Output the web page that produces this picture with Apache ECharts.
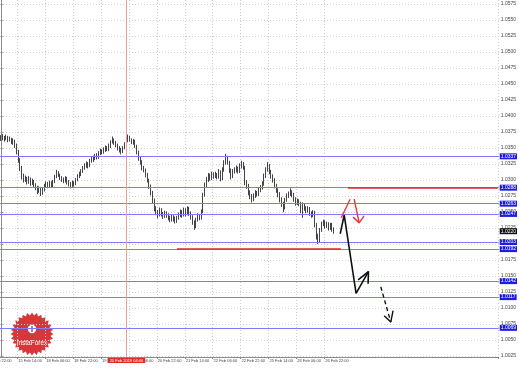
<!DOCTYPE html>
<html><head><meta charset="utf-8">
<script src="https://cdn.jsdelivr.net/npm/echarts@6/dist/echarts.min.js"></script>
<style>html,body{margin:0;padding:0;background:#fff}#c{width:519px;height:370px}</style>
</head><body><div id="c"></div>
<script>
// H1 bars, 15 Feb 2019 04:00 onwards
const firstOpen = 1.0364;
const closes = [
1.0366,1.0367,1.0364,1.0367,1.0363,1.0364,1.0359,1.0361,1.0355,1.0344,
1.0331,1.0319,1.0306,1.0300,1.0303,1.0297,1.0302,1.0295,1.0298,1.0292,
1.0288,1.0283,1.0286,1.0280,1.0284,1.0291,1.0294,1.0291,1.0295,1.0292,
1.0297,1.0305,1.0311,1.0308,1.0303,1.0300,1.0298,1.0303,1.0297,1.0294,
1.0291,1.0295,1.0294,1.0300,1.0306,1.0309,1.0314,1.0319,1.0322,1.0325,
1.0322,1.0330,1.0331,1.0334,1.0338,1.0336,1.0342,1.0345,1.0344,1.0347,
1.0350,1.0348,1.0353,1.0359,1.0363,1.0358,1.0355,1.0350,1.0347,1.0344,
1.0350,1.0356,1.0361,1.0366,1.0363,1.0359,1.0361,1.0353,1.0344,1.0334,
1.0328,1.0319,1.0316,1.0308,1.0300,1.0291,1.0281,1.0269,1.0256,1.0250,
1.0245,1.0253,1.0247,1.0244,1.0248,1.0245,1.0241,1.0238,1.0242,1.0239,
1.0236,1.0241,1.0245,1.0250,1.0245,1.0253,1.0247,1.0255,1.0248,1.0242,
1.0234,1.0228,1.0238,1.0244,1.0241,1.0250,1.0277,1.0292,1.0300,1.0306,
1.0303,1.0309,1.0306,1.0309,1.0305,1.0313,1.0303,1.0316,1.0327,1.0334,
1.0328,1.0316,1.0306,1.0313,1.0316,1.0319,1.0314,1.0322,1.0325,1.0320,
1.0297,1.0291,1.0281,1.0275,1.0270,1.0275,1.0280,1.0278,1.0284,1.0288,
1.0294,1.0306,1.0316,1.0322,1.0313,1.0306,1.0300,1.0291,1.0284,1.0278,
1.0270,1.0263,1.0256,1.0269,1.0275,1.0278,1.0281,1.0277,1.0270,1.0264,
1.0267,1.0263,1.0258,1.0261,1.0256,1.0252,1.0255,1.0248,1.0245,1.0250,
1.0230,1.0213,1.0206,1.0222,1.0231,1.0234,1.0228,1.0231,1.0225,1.0230,1.0223,1.0220];
const highs = [
1.0370,1.0372,1.0369,1.0371,1.0369,1.0368,1.0366,1.0365,1.0363,1.0357,
1.0347,1.0334,1.0322,1.0310,1.0307,1.0305,1.0306,1.0304,1.0302,1.0300,
1.0295,1.0291,1.0290,1.0288,1.0288,1.0294,1.0298,1.0297,1.0299,1.0298,
1.0300,1.0308,1.0316,1.0314,1.0310,1.0306,1.0304,1.0306,1.0305,1.0300,
1.0297,1.0299,1.0298,1.0303,1.0309,1.0313,1.0317,1.0322,1.0326,1.0329,
1.0328,1.0333,1.0336,1.0338,1.0341,1.0342,1.0345,1.0349,1.0348,1.0351,
1.0354,1.0353,1.0357,1.0362,1.0368,1.0365,1.0361,1.0357,1.0353,1.0350,
1.0353,1.0359,1.0365,1.0371,1.0369,1.0365,1.0364,1.0363,1.0355,1.0346,
1.0337,1.0331,1.0322,1.0318,1.0311,1.0302,1.0293,1.0283,1.0271,1.0259,
1.0253,1.0257,1.0256,1.0250,1.0252,1.0251,1.0248,1.0244,1.0246,1.0245,
1.0243,1.0244,1.0249,1.0254,1.0253,1.0257,1.0256,1.0259,1.0258,1.0251,
1.0245,1.0237,1.0241,1.0248,1.0247,1.0254,1.0280,1.0296,1.0305,1.0311,
1.0310,1.0313,1.0312,1.0313,1.0311,1.0317,1.0315,1.0320,1.0331,1.0341,
1.0338,1.0330,1.0318,1.0317,1.0320,1.0323,1.0321,1.0326,1.0330,1.0328,
1.0322,1.0300,1.0294,1.0284,1.0278,1.0279,1.0284,1.0283,1.0288,1.0292,
1.0298,1.0310,1.0320,1.0328,1.0325,1.0316,1.0309,1.0303,1.0294,1.0287,
1.0281,1.0273,1.0266,1.0272,1.0279,1.0282,1.0287,1.0284,1.0280,1.0273,
1.0271,1.0270,1.0266,1.0265,1.0264,1.0259,1.0259,1.0258,1.0251,1.0253,
1.0252,1.0233,1.0216,1.0225,1.0235,1.0238,1.0237,1.0235,1.0234,1.0233,1.0233,1.0226];
const lows = [
1.0361,1.0362,1.0360,1.0362,1.0359,1.0360,1.0356,1.0355,1.0350,1.0340,
1.0327,1.0314,1.0301,1.0296,1.0297,1.0293,1.0294,1.0291,1.0292,1.0288,
1.0284,1.0278,1.0280,1.0275,1.0277,1.0282,1.0288,1.0287,1.0288,1.0289,
1.0289,1.0295,1.0303,1.0305,1.0300,1.0297,1.0295,1.0296,1.0293,1.0290,
1.0287,1.0289,1.0290,1.0292,1.0298,1.0303,1.0306,1.0311,1.0316,1.0319,
1.0318,1.0320,1.0327,1.0328,1.0331,1.0332,1.0333,1.0339,1.0340,1.0341,
1.0344,1.0345,1.0345,1.0350,1.0357,1.0355,1.0351,1.0346,1.0343,1.0340,
1.0342,1.0348,1.0354,1.0359,1.0360,1.0356,1.0355,1.0350,1.0340,1.0330,
1.0324,1.0315,1.0312,1.0304,1.0296,1.0286,1.0276,1.0264,1.0251,1.0245,
1.0240,1.0243,1.0243,1.0239,1.0241,1.0241,1.0237,1.0234,1.0235,1.0235,
1.0232,1.0233,1.0238,1.0242,1.0241,1.0243,1.0243,1.0245,1.0244,1.0238,
1.0230,1.0222,1.0225,1.0235,1.0237,1.0238,1.0248,1.0274,1.0288,1.0297,
1.0299,1.0300,1.0302,1.0303,1.0301,1.0302,1.0298,1.0300,1.0313,1.0324,
1.0324,1.0311,1.0301,1.0303,1.0310,1.0312,1.0310,1.0311,1.0318,1.0316,
1.0292,1.0286,1.0276,1.0270,1.0265,1.0267,1.0272,1.0274,1.0275,1.0281,
1.0285,1.0291,1.0303,1.0313,1.0309,1.0302,1.0296,1.0287,1.0280,1.0273,
1.0265,1.0258,1.0250,1.0254,1.0266,1.0272,1.0275,1.0273,1.0266,1.0260,
1.0261,1.0259,1.0248,1.0241,1.0252,1.0248,1.0249,1.0244,1.0241,1.0242,
1.0226,1.0207,1.0200,1.0203,1.0219,1.0228,1.0224,1.0225,1.0221,1.0222,1.0219,1.0216];

const slotCount = 286; // bar slots across the window (incl. empty future space)
const timeLabelIndex = [10,26,42,58,74,90,106,122,138,154,170,186];
const timeLabels = ['15 Feb 14:00','18 Feb 06:00','18 Feb 22:00','19 Feb 14:00','20 Feb 06:00','20 Feb 22:00',
  '21 Feb 14:00','22 Feb 06:00','22 Feb 22:00','25 Feb 14:00','26 Feb 06:00','26 Feb 22:00'];
const cutLabel = '14 Feb 22:00';
const priceTicks = [1.0025,1.0050,1.0075,1.0100,1.0125,1.0150,1.0175,1.0200,1.0225,1.0250,1.0275,1.0300,
  1.0325,1.0350,1.0375,1.0400,1.0425,1.0450,1.0475,1.0500,1.0525,1.0550,1.0575];
const levelLines = [1.0337,1.0288,1.0263,1.0247,1.0203,1.0192,1.0142,1.0117,1.0069];
const redSegments = [[199,285,1.0288],[101,195,1.0192]];
const markerIndex = 72;
const markerText = '20 Feb 2019 04:00';
const lastPrice = 1.0220;
// hand-drawn forecast arrows: [bar position, price]
const redArrowUp = [[195.2,1.0241],[200.3,1.0270]];
const redArrowDown = [[202.6,1.0270],[205.5,1.0233]];
const redArrowHead = [[202.0,1.0242],[205.5,1.0233],[208.3,1.0244]];
const blackPath = [[194.6,1.0216],[196.9,1.0245],[203.7,1.0123],[210.8,1.0157]];
const blackHead = [[204.9,1.0144],[210.8,1.0157],[210.6,1.0138]];
const blackDashed = [[217.9,1.0133],[223.6,1.0078]];
const blackDashedHead = [[219.8,1.0088],[223.6,1.0078],[224.9,1.0096]];

const categories = [];
for (let i = 0; i < slotCount; i++) {
  const k = timeLabelIndex.indexOf(i);
  categories.push(k >= 0 ? timeLabels[k] : '');
}
const ohlc = closes.map((c, i) => [i === 0 ? firstOpen : closes[i - 1], c, lows[i], highs[i]]);
const isLabel = (idx) => timeLabelIndex.indexOf(idx) >= 0;

const chart = echarts.init(document.getElementById('c'), null, {renderer: 'canvas'});
const F = 'Liberation Sans, Arial, sans-serif';
const gridLine = {show: true, lineStyle: {color: '#cfcfcf', type: [1, 2], width: 1}};

function arrowSeries(data, color, width, dashed) {
  return {type: 'line', xAxisIndex: 1, yAxisIndex: 0, data: data, showSymbol: false, symbol: 'none',
    silent: true, z: 5, lineStyle: {color: color, width: width, type: dashed ? [4, 3] : 'solid'}};
}

const levelMarks = levelLines.map(v => ({yAxis: v}));

chart.setOption({
  animation: false,
  backgroundColor: '#ffffff',
  grid: {left: 0, top: 0, right: 18, bottom: 13, containLabel: false},
  xAxis: [{
    type: 'category', data: categories, boundaryGap: true,
    axisLine: {show: true, lineStyle: {color: '#8c8c8c', width: 1}},
    axisTick: {show: true, interval: (i) => isLabel(i), length: 2, lineStyle: {color: '#888'}},
    axisLabel: {interval: (i) => isLabel(i), align: 'left', margin: 2, fontSize: 4, color: '#444', fontFamily: F},
    splitLine: Object.assign({interval: (i) => isLabel(i)}, gridLine)
  }, {
    type: 'value', min: -0.5, max: slotCount - 0.5, show: false
  }],
  yAxis: {
    type: 'value', position: 'right', min: 1.002344, max: 1.058125, scale: true,
    axisLine: {show: true, lineStyle: {color: '#8c8c8c', width: 1}},
    axisTick: {show: true, customValues: priceTicks, length: 2, lineStyle: {color: '#888'}},
    axisLabel: {customValues: priceTicks, formatter: (v) => v.toFixed(4), margin: 2, fontSize: 5, color: '#444', fontFamily: F},
    splitLine: gridLine
  },
  series: [{
    type: 'candlestick', data: ohlc, barWidth: 1.2,
    itemStyle: {color: '#ffffff', color0: '#141420', borderColor: '#141420', borderColor0: '#141420', borderWidth: 0.8},
    markLine: {
      silent: true, symbol: ['none', 'none'], precision: 4,
      lineStyle: {color: '#7c7cf6', width: 1.2, type: 'solid'},
      label: {position: 'end', distance: 1, fontSize: 5, fontFamily: F, color: '#fff', backgroundColor: '#1c1ce6',
        padding: [1, 1, 0, 1], formatter: (p) => Number(p.value).toFixed(4)},
      data: levelMarks.concat([
        {xAxis: markerIndex, lineStyle: {color: '#f29a9a', width: 1},
          label: {position: 'start', distance: 1, fontSize: 4, color: '#fff', backgroundColor: '#e22b2b',
            padding: [1, 2, 0, 2], formatter: markerText}}
      ])
    }
  }, {
    type: 'line', data: [], silent: true, z: 3,
    markLine: {
      silent: true, symbol: ['none', 'none'], precision: 4,
      lineStyle: {color: '#e02828', width: 1.6, type: 'solid'},
      label: {show: false},
      data: redSegments.map(s => [{coord: [s[0], s[2]]}, {coord: [s[1], s[2]]}])
    }
  }, {
    type: 'line', data: [], silent: true, z: 6,
    markLine: {
      silent: true, symbol: ['none', 'none'], precision: 4,
      lineStyle: {color: 'rgba(0,0,0,0)', width: 0},
      label: {position: 'end', distance: 1, fontSize: 5, fontFamily: F, color: '#fff', backgroundColor: '#111',
        padding: [1, 1, 0, 1], formatter: (p) => Number(p.value).toFixed(4)},
      data: [{yAxis: lastPrice}]
    }
  },
  arrowSeries(redArrowUp, '#f03535', 1.4),
  arrowSeries(redArrowDown, '#f03535', 1.4),
  arrowSeries(redArrowHead, '#f03535', 1.4),
  arrowSeries(blackPath, '#111', 1.6),
  arrowSeries(blackHead, '#111', 1.6),
  arrowSeries(blackDashed, '#111', 1.4, true),
  arrowSeries(blackDashedHead, '#111', 1.4)
  ],
  graphic: [
    {type: 'text', left: -12, top: 359, silent: true,
      style: {text: cutLabel, fontSize: 4, fill: '#444', fontFamily: F}},
    (function () {
      const pts = [];
      const n = 28;
      for (let k = 0; k < n * 2; k++) {
        const r = k % 2 === 0 ? 21.5 : 18.5;
        const a = Math.PI * k / n;
        pts.push([32 + r * Math.cos(a), 334 + r * Math.sin(a)]);
      }
      return {type: 'group', z: 100, silent: true, children: [
        {type: 'polygon', shape: {points: pts}, style: {fill: '#d8373a'}},
        {type: 'circle', shape: {cx: 32, cy: 329, r: 4.2}, style: {fill: '#fff'}},
        {type: 'rect', shape: {x: 31.3, y: 326, width: 1.4, height: 6}, style: {fill: '#d8373a'}},
        {type: 'text', x: 32, y: 343, style: {text: 'InstaForex', fontSize: 6.5, fill: '#fff', align: 'center',
          verticalAlign: 'middle', fontFamily: F}}
      ]};
    })()
  ]
});
</script></body></html>
